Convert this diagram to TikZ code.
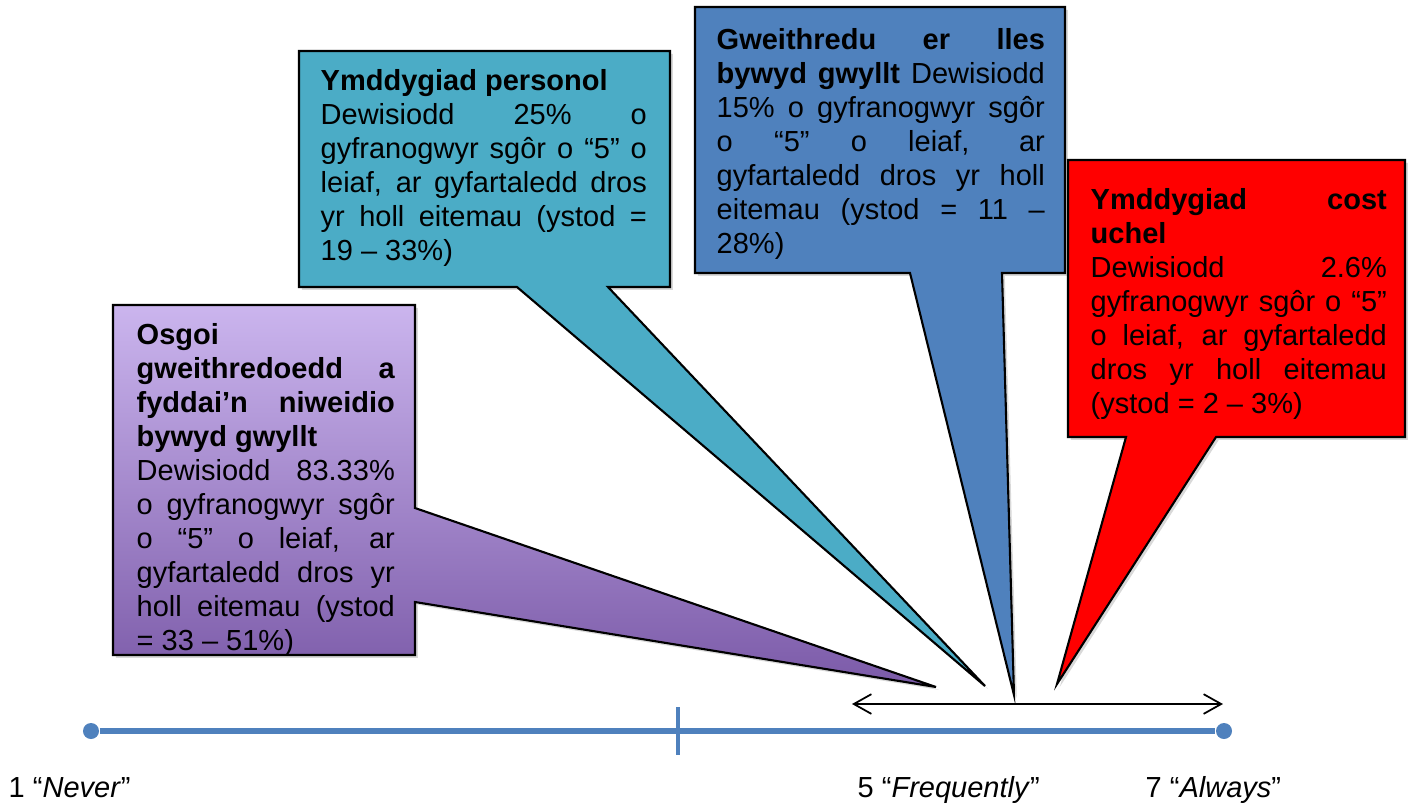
\documentclass[tikz,border=0pt]{standalone}
\usepackage{fontspec}
\setmainfont{Liberation Sans}
\usetikzlibrary{arrows.meta,shadows}
\definecolor{lilactop}{HTML}{CBB5EE}
\definecolor{lilacbot}{HTML}{7B5AA8}
\definecolor{aqua}{HTML}{4BACC6}
\definecolor{steel}{HTML}{4F81BD}
\tolerance=10000
\hbadness=10000
\hyphenpenalty=10000

\begin{document}
\begin{tikzpicture}[x=0.01cm, y=-0.01cm]
	\tikzstyle{callout} = [draw=black, line width=0.6pt, drop shadow={shadow xshift=0.8pt, shadow yshift=-0.8pt, opacity=0.3}]
	\tikzstyle{txt} = [anchor=north west, inner sep=0pt, align=justify, font=\fontsize{8.25pt}{9.65pt}\selectfont]
	\tikzstyle{lbl} = [anchor=base west, inner sep=0pt, font=\fontsize{8.25pt}{9.65pt}\selectfont]
	\tikzstyle{dot} = [circle, fill=steel, inner sep=0pt, minimum size=1.6mm]

	\useasboundingbox (0,0) rectangle (1409,805);

	\coordinate (t1) at (936,687);
	\coordinate (t2) at (985,686);
	\coordinate (t3) at (1014,695);
	\coordinate (t4) at (1057,684);

	\path[callout, top color=lilactop, bottom color=lilacbot] (113,305) -- (415,305) -- (415,508) -- (t1) -- (415,602) -- (415,655) -- (113,655) -- cycle;
	\path[callout, fill=aqua] (299,51) -- (670,51) -- (670,287) -- (608,287) -- (t2) -- (517,287) -- (299,287) -- cycle;
	\path[callout, fill=steel] (695,7) -- (1065,7) -- (1065,273) -- (1002,273) -- (t3) -- (910,273) -- (695,273) -- cycle;
	\path[callout, fill=red] (1068,160) -- (1405,160) -- (1405,437) -- (1216,437) -- (t4) -- (1126,437) -- (1068,437) -- cycle;

	\draw (136,323) node[txt, text width=2.58cm] (n1) {\textbf{Osgoi\linebreak gweithredoedd a\linebreak fyddai’n niweidio\linebreak bywyd gwyllt}\newline Dewisiodd 83.33\%\linebreak o gyfranogwyr sgôr\linebreak o “5” o leiaf, ar\linebreak gyfartaledd dros yr\linebreak holl eitemau (ystod\linebreak = 33 – 51\%)};
	\draw (320,69) node[txt, text width=3.26cm] (n2) {\textbf{Ymddygiad personol}\newline Dewisiodd 25\% o\linebreak gyfranogwyr sgôr o “5” o\linebreak leiaf, ar gyfartaledd dros\linebreak yr holl eitemau (ystod =\linebreak 19 – 33\%)};
	\draw (716,28) node[txt, text width=3.28cm] (n3) {\textbf{Gweithredu er lles\linebreak bywyd gwyllt} Dewisiodd\linebreak 15\% o gyfranogwyr sgôr\linebreak o “5” o leiaf, ar\linebreak gyfartaledd dros yr holl\linebreak eitemau (ystod = 11 –\linebreak 28\%)};
	\draw (1090,188) node[txt, text width=2.96cm] (n4) {\textbf{Ymddygiad cost\linebreak uchel}\newline Dewisiodd 2.6\%\linebreak gyfranogwyr sgôr o “5”\linebreak o leiaf, ar gyfartaledd\linebreak dros yr holl eitemau\linebreak (ystod = 2 – 3\%)};

	% scale
	\draw (91,731) node[dot] (d1) {};
	\draw (1224,731) node[dot] (d7) {};
	\coordinate (k1) at (678,707);
	\coordinate (k2) at (678,755);
	\draw[steel, line width=1.7pt] (d1) -- (d7);
	\draw[steel, line width=1.4pt] (k1) -- (k2);

	\coordinate (a1) at (852,704);
	\coordinate (a2) at (1223,704);
	\draw[{Straight Barb[length=5pt,width=5.6pt]}-{Straight Barb[length=5pt,width=5.6pt]}, line width=0.5pt] (a1) -- (a2);

	\draw (8,797) node[lbl] (l1) {1 “\textit{Never}”};
	\draw (857,797) node[lbl] (l5) {5 “\textit{Frequently}”};
	\draw (1145,797) node[lbl] (l7) {7 “\textit{Always}”};
\end{tikzpicture}
\end{document}
